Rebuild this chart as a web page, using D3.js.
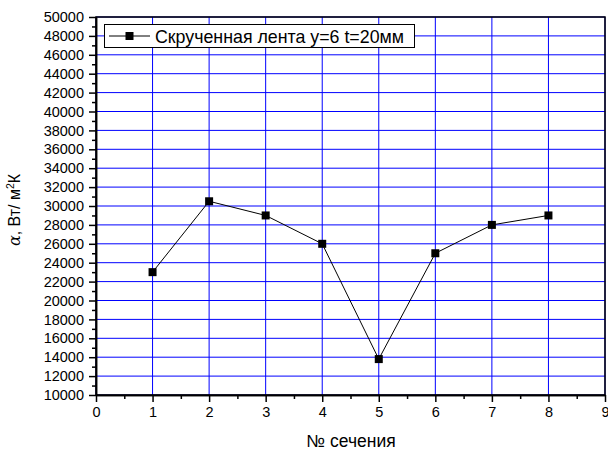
<!DOCTYPE html>
<html>
<head>
<meta charset="utf-8">
<script src="https://cdn.jsdelivr.net/npm/d3@7"></script>
<style>
  html, body { margin: 0; padding: 0; background: #fff; }
  svg { display: block; font-family: Arial, "Liberation Sans", sans-serif; }
</style>
</head>
<body>
<svg id="chart" width="608" height="452"></svg>
<script>
// Section numbers and heat transfer coefficient values
const sections = [1, 2, 3, 4, 5, 6, 7, 8];
const alphaValues = [23000, 30500, 29000, 26000, 13800, 25000, 28000, 29000];
const xTicks = [0, 1, 2, 3, 4, 5, 6, 7, 8, 9];
const yTicks = d3.range(10000, 50001, 2000);
const seriesName = "Скрученная лента y=6 t=20мм";

const svg = d3.select("#chart");
const margin = { left: 96, top: 17, right: 3, bottom: 57 };
const W = 608, H = 452;
const x0 = margin.left, x1 = W - margin.right;
const y0 = H - margin.bottom, y1 = margin.top;

const x = d3.scaleLinear().domain([0, 9]).range([x0, x1]);
const y = d3.scaleLinear().domain([10000, 50000]).range([y0, y1]);

// grid
const grid = svg.append("g").attr("stroke", "#0000ff").attr("stroke-width", 1);
grid.selectAll("line.v").data(xTicks).join("line")
  .attr("x1", d => x(d)).attr("x2", d => x(d))
  .attr("y1", y0).attr("y2", y1);
grid.selectAll("line.h").data(yTicks).join("line")
  .attr("x1", x0).attr("x2", x1)
  .attr("y1", d => y(d)).attr("y2", d => y(d));

// axes
const tickFont = "14.5px";
const yAxis = d3.axisLeft(y).tickValues(yTicks).tickFormat(d3.format("d"))
  .tickSizeInner(7).tickSizeOuter(0).tickPadding(5);
const gy = svg.append("g").attr("transform", `translate(${x0},0)`).call(yAxis);
gy.selectAll("text").attr("font-size", tickFont).attr("fill", "#000");

const yMinor = d3.axisLeft(y).tickValues(d3.range(11000, 50000, 2000))
  .tickFormat("").tickSizeInner(4).tickSizeOuter(0);
svg.append("g").attr("transform", `translate(${x0},0)`).call(yMinor);

const xAxis = d3.axisBottom(x).tickValues(xTicks).tickFormat(d3.format("d"))
  .tickSizeInner(7).tickSizeOuter(0).tickPadding(5);
const gx = svg.append("g").attr("transform", `translate(0,${y0})`).call(xAxis);
gx.selectAll("text").attr("font-size", tickFont).attr("fill", "#000");

const xMinor = d3.axisBottom(x).tickValues(d3.range(0.5, 9, 1))
  .tickFormat("").tickSizeInner(4).tickSizeOuter(0);
svg.append("g").attr("transform", `translate(0,${y0})`).call(xMinor);

svg.selectAll(".domain").attr("stroke", "#000").attr("stroke-width", 1.5);
svg.selectAll(".tick line").attr("stroke", "#000").attr("stroke-width", 1.5);

// frame
svg.append("rect")
  .attr("x", x0).attr("y", y1).attr("width", x1 - x0).attr("height", y0 - y1)
  .attr("fill", "none").attr("stroke", "#000").attr("stroke-width", 1.5);

// series
const pts = sections.map((s, i) => [s, alphaValues[i]]);
svg.append("path")
  .datum(pts)
  .attr("fill", "none").attr("stroke", "#000").attr("stroke-width", 1)
  .attr("d", d3.line().x(d => x(d[0])).y(d => y(d[1])));
svg.selectAll("rect.pt").data(pts).join("rect")
  .attr("class", "pt")
  .attr("x", d => x(d[0]) - 4).attr("y", d => y(d[1]) - 4)
  .attr("width", 8).attr("height", 8).attr("fill", "#000");

// legend
const lg = svg.append("g");
lg.append("rect").attr("x", 104.5).attr("y", 24.5).attr("width", 310).attr("height", 23)
  .attr("fill", "#fff").attr("stroke", "#000").attr("stroke-width", 1);
lg.append("line").attr("x1", 109).attr("x2", 150).attr("y1", 36).attr("y2", 36)
  .attr("stroke", "#000").attr("stroke-width", 1);
lg.append("rect").attr("x", 125.5).attr("y", 32).attr("width", 8).attr("height", 8).attr("fill", "#000");
lg.append("text").attr("x", 155).attr("y", 42.5).attr("font-size", "17.8px").attr("fill", "#000")
  .text(seriesName);

// axis titles
svg.append("text").attr("x", 351).attr("y", 447)
  .attr("text-anchor", "middle").attr("font-size", "17.5px").attr("fill", "#000")
  .text("№ сечения");

const yt = svg.append("text")
  .attr("transform", `translate(20,${(y0 + y1) / 2 + 4}) rotate(-90)`)
  .attr("text-anchor", "middle").attr("font-size", "16px").attr("fill", "#000");
yt.append("tspan").attr("font-family", "'DejaVu Serif', serif").attr("font-style", "italic").text("α");
yt.append("tspan").text(", Вт/ м");
yt.append("tspan").attr("font-size", "10.5px").attr("dy", -6).text("2");
yt.append("tspan").attr("dy", 6).text("К");
</script>
</body>
</html>
